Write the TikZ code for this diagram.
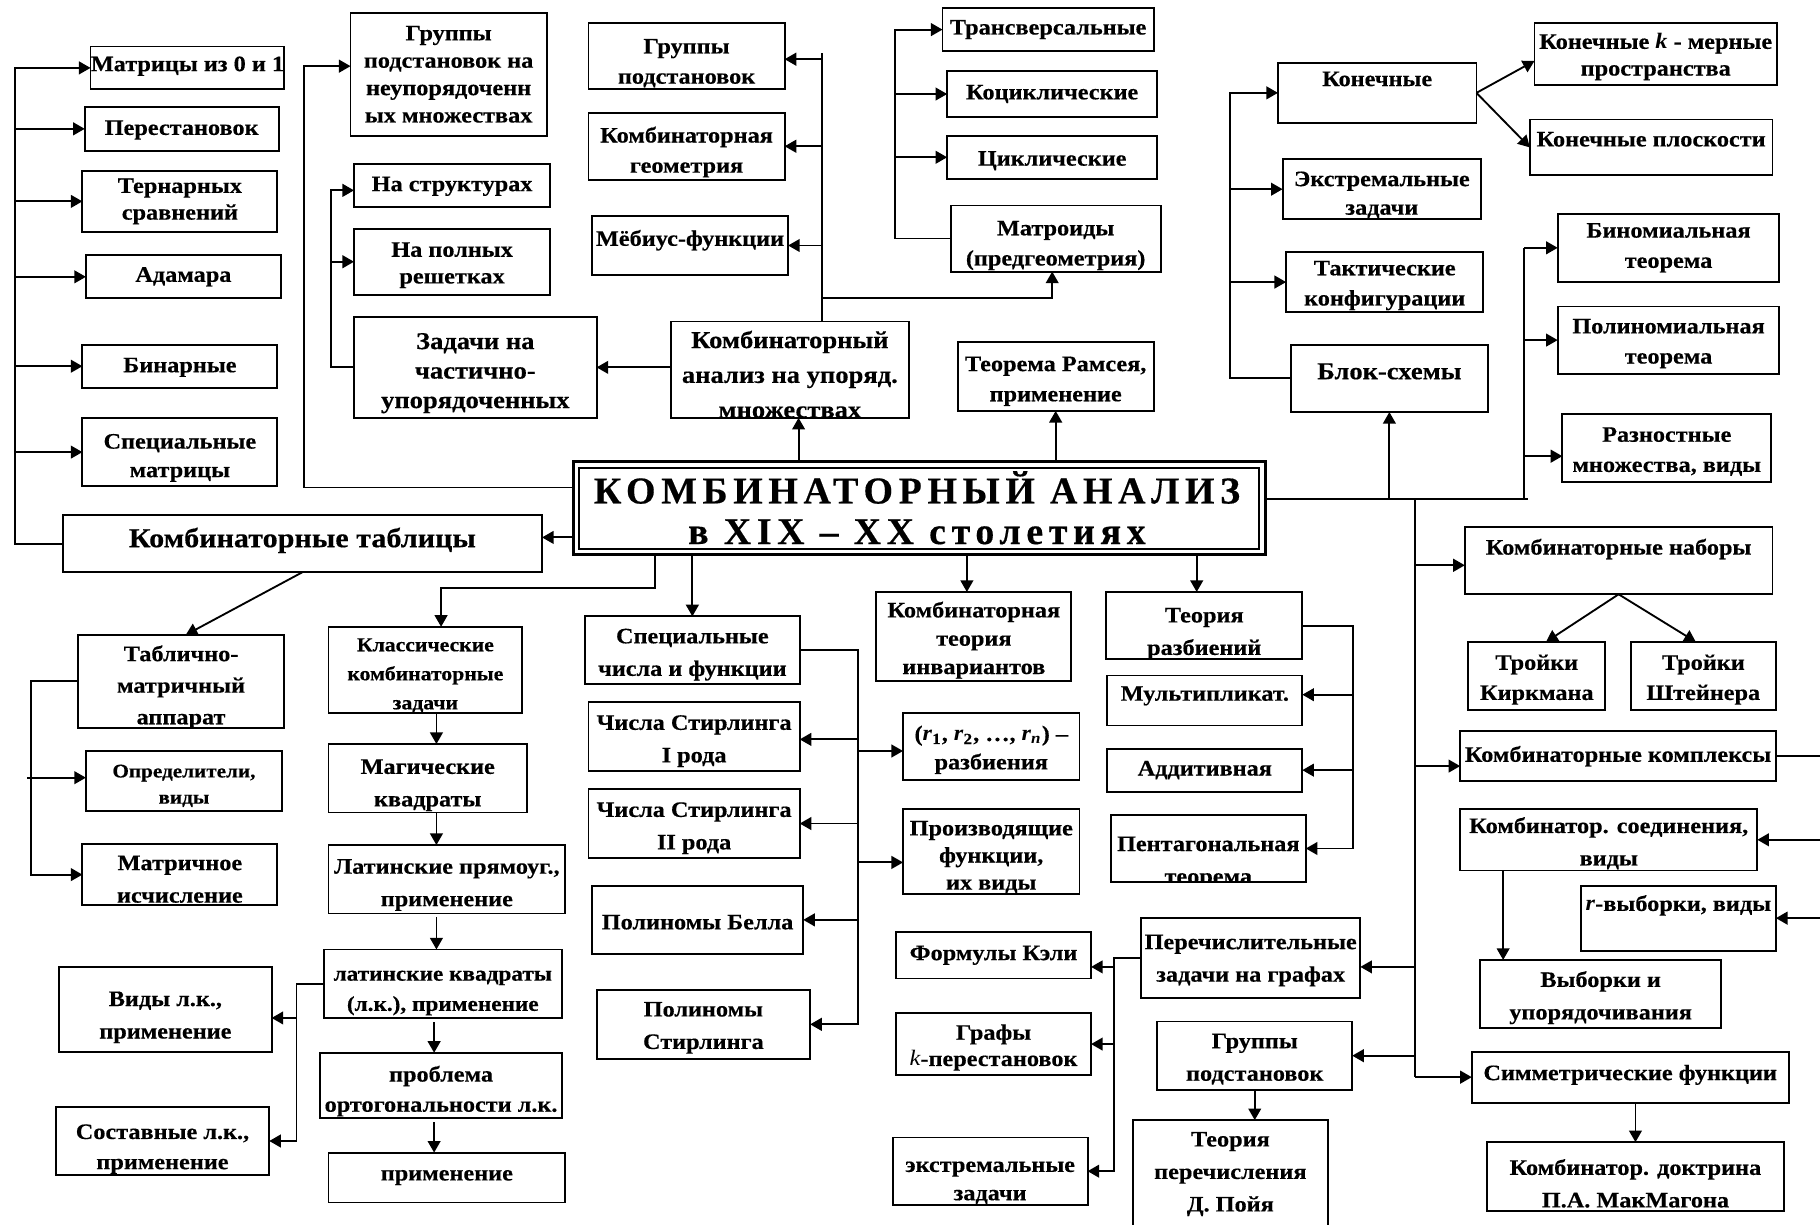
\documentclass[tikz,border=0pt]{standalone}
\usepackage{fontspec}
\setmainfont{Liberation Serif}[FakeStretch=1.1, BoldFeatures={FakeBold=0.4}]
\newfontfamily\titlefam[LetterSpace=15, BoldFeatures={FakeBold=0.4}]{Liberation Serif}
\usetikzlibrary{arrows.meta,calc}
\tikzset{
  box/.style={draw, line width=0.8pt, rectangle, inner sep=0pt, outer sep=0pt},
  txt/.style={align=center, inner sep=0pt, font=\bfseries\fontsize{9.5}{12}\selectfont},
  fs/.style 2 args={font=\bfseries\fontsize{#1}{#2}\selectfont},
  bs/.style={font=\bfseries\fontsize{9.5}{#1}\selectfont},
  arr/.style={line width=0.8pt, -{Triangle[length=5pt,width=5.5pt]}},
  ln/.style={line width=0.8pt},
}
\newcommand\bx[7][]{%
  \node[box, minimum width={(#5-#3)*0.5pt}, minimum height={(#6-#4)*0.5pt}] (#2) at ({(#3+#5)/2},{(#4+#6)/2}) {};
  \begin{scope}
    \clip (#2.south west) rectangle (#2.north east);
    \node[txt,#1] (#2-t) at (#2.center) {#7};
  \end{scope}}
\begin{document}
\begin{tikzpicture}[x=0.5pt, y=-0.5pt]
\useasboundingbox (0,0) rectangle (1568,1055);
\fill[white] (0,0) rectangle (1568,1055);

% ---------- boxes ----------
\bx[yshift=0.75pt]{m01}{78}{40}{245}{77}{Матрицы из 0 и 1}
\bx[yshift=-0.5pt]{perm}{73}{92}{240}{130}{Перестановок}
\bx[bs=11.5]{tern}{71}{147}{239}{200}{Тернарных\\сравнений}
\bx{adam}{74}{220}{242}{257}{Адамара}
\bx[yshift=-0.5pt]{bin}{71}{297}{239}{334}{Бинарные}
\bx[bs=12.3,yshift=-2.5pt]{specm}{71}{360}{239}{419}{Специальные\\матрицы}
\bx[fs={11.8}{15},yshift=1.5pt]{tables}{54}{444}{467}{493}{Комбинаторные таблицы}
\bx[bs=11.8]{grpU}{302}{11}{471}{117}{Группы\\подстановок на\\неупорядоченн\\ых множествах}
\bx[yshift=-0.5pt]{nastr}{305}{141}{474}{178}{На структурах}
\bx[bs=11.5,yshift=-1.5pt]{napoln}{305}{197}{474}{254}{На полных\\решетках}
\bx[fs={10.4}{12.7},yshift=-2.5pt]{zad}{305}{273}{514}{360}{Задачи на\\частично-\\упорядоченных}
\bx[bs=13,yshift=-3pt]{grpP}{507}{20}{676}{77}{Группы\\подстановок}
\bx[bs=13,yshift=-2.5pt]{kgeom}{507}{97}{676}{155}{Комбинаторная\\геометрия}
\bx[yshift=2.25pt]{mob}{510}{186}{679}{237}{Мёбиус-функции}
\bx[fs={10.4}{15},yshift=-2pt]{kupor}{578}{277}{783}{360}{Комбинаторный\\анализ на упоряд.\\множествах}
\bx{trans}{812}{7}{994}{44}{Трансверсальные}
\bx{kocikl}{816}{61}{997}{101}{Коциклические}
\bx[yshift=-1.5pt]{cikl}{816}{117}{997}{154}{Циклические}
\bx[bs=13,yshift=-3pt]{matr}{819}{177}{1000}{234}{Матроиды\\(предгеометрия)}
\bx[bs=13,yshift=-2pt]{ramsey}{825}{295}{994}{354}{Теорема Рамсея,\\применение}
\bx[yshift=6pt]{konech}{1101}{54}{1272}{106}{Конечные}
\bx[bs=11.5,yshift=-1.25pt]{konk}{1322}{20}{1531}{73}{Конечные \textit{k} - мерные\\пространства}
\bx[yshift=3.5pt]{konpl}{1318}{103}{1527}{151}{Конечные плоскости}
\bx[bs=12.3,yshift=-2.5pt]{extrem}{1105}{137}{1276}{189}{Экстремальные\\задачи}
\bx[bs=13,yshift=-1.5pt]{takt}{1108}{217}{1278}{269}{Тактические\\конфигурации}
\bx[fs={10.4}{13},yshift=3pt]{blok}{1112}{297}{1282}{355}{Блок-схемы}
\bx[bs=13]{binom}{1342}{184}{1533}{243}{Биномиальная\\теорема}
\bx[bs=13,yshift=-1.5pt]{polin}{1342}{264}{1533}{322}{Полиномиальная\\теорема}
\bx[bs=13,yshift=-1.5pt]{razn}{1346}{357}{1526}{415}{Разностные\\множества, виды}
\bx[yshift=5pt]{kombnab}{1262}{454}{1527}{512}{Комбинаторные наборы}
\bx[bs=13,yshift=-1.5pt]{kirk}{1265}{553}{1383}{612}{Тройки\\Киркмана}
\bx[bs=13,yshift=-1.5pt]{stein}{1405}{553}{1530}{612}{Тройки\\Штейнера}
\bx{kompl}{1258}{630}{1530}{673}{Комбинаторные комплексы}
\bx[bs=14,yshift=-1.5pt]{soed}{1258}{697}{1514}{750}{Комбинатор. соединения,\\виды}
\bx[yshift=5.5pt]{rvyb}{1362}{763}{1530}{819}{\textit{r}-выборки, виды}
\bx[bs=14,yshift=-1.5pt]{vyb}{1275}{827}{1483}{886}{Выборки и\\упорядочивания}
\bx[yshift=1pt]{simm}{1268}{906}{1541}{950}{Симметрические функции}
\bx[bs=14,yshift=-3pt]{macm}{1281}{984}{1537}{1043}{Комбинатор. доктрина\\П.А. МакМагона}
\bx[bs=13.6,yshift=-2.5pt]{tabmat}{67}{547}{245}{627}{Таблично-\\матричный\\аппарат}
\bx[fs={8.3}{11.3},yshift=-2pt]{opred}{74}{647}{243}{699}{Определители,\\виды}
\bx[bs=14,yshift=-2pt]{matris}{71}{727}{239}{780}{Матричное\\исчисление}
\bx[fs={8.5}{12.5},yshift=-2.5pt]{klass}{283}{540}{450}{614}{Классические\\комбинаторные\\задачи}
\bx[bs=14,yshift=-3pt]{magic}{283}{641}{454}{700}{Магические\\квадраты}
\bx[bs=14,yshift=-2.5pt]{latpr}{283}{728}{487}{787}{Латинские прямоуг.,\\применение}
\bx[fs={9.1}{13},yshift=-4pt]{latkv}{279}{818}{484}{877}{латинские квадраты\\(л.к.), применение}
\bx[bs=13,yshift=-2.5pt]{probl}{276}{907}{484}{963}{проблема\\ортогональности л.к.}
\bx{prim}{283}{993}{487}{1036}{применение}
\bx[bs=14,yshift=-3.5pt]{vidy}{51}{833}{234}{906}{Виды л.к.,\\применение}
\bx[bs=13,yshift=-3.5pt]{sostav}{48}{954}{232}{1012}{Составные л.к.,\\применение}
\bx[bs=14,yshift=-2pt]{specch}{504}{531}{689}{589}{Специальные\\числа и функции}
\bx[bs=14,yshift=-2pt]{st1}{507}{605}{689}{664}{Числа Стирлинга\\I рода}
\bx[bs=14,yshift=-2pt]{st2}{507}{680}{689}{739}{Числа Стирлинга\\II рода}
\bx[yshift=-1pt]{bell}{510}{763}{692}{822}{Полиномы Белла}
\bx[bs=14,yshift=-1.5pt]{polst}{514}{853}{698}{912}{Полиномы\\Стирлинга}
\bx[bs=12.2,yshift=-1.5pt]{invar}{755}{510}{923}{587}{Комбинаторная\\теория\\инвариантов}
\bx[bs=12.2,yshift=-1.5pt]{rpart}{778}{614}{930}{672}{(\textit{r}\textsubscript{1}, \textit{r}\textsubscript{2}, …, \textit{r\textsubscript{n}}) –\\разбиения}
\bx[bs=11.7,yshift=-2.5pt]{proizv}{778}{697}{930}{770}{Производящие\\функции,\\их виды}
\bx{kely}{772}{803}{940}{843}{Формулы Кэли}
\bx[bs=11.3,yshift=-1.5pt]{grafy}{772}{873}{940}{926}{Графы\\{\mdseries\itshape k}-перестановок}
\bx[bs=12.2,yshift=-5pt]{extrz}{769}{980}{937}{1038}{экстремальные\\задачи}
\bx[bs=14,yshift=-3.5pt]{teorr}{953}{510}{1122}{568}{Теория\\разбиений}
\bx[yshift=2pt]{mult}{954}{582}{1122}{625}{Мультипликат.}
\bx{addit}{954}{645}{1122}{682}{Аддитивная}
\bx[bs=14,yshift=-6pt]{pent}{957}{702}{1125}{760}{Пентагональная\\теорема}
\bx[bs=14,yshift=-1pt]{perech}{983}{791}{1172}{860}{Перечислительные\\задачи на графах}
\bx[bs=14,yshift=-1.5pt]{grpod2}{997}{880}{1165}{939}{Группы\\подстановок}
\bx[bs=14]{poya}{976}{965}{1144}{1058}{Теория\\перечисления\\Д. Пойя}

% ---------- title ----------
\node[draw, line width=1.3pt, inner sep=0pt, outer sep=0pt, minimum width={596*0.5pt}, minimum height={80*0.5pt}] (title) at (792,438) {};
\draw[line width=0.8pt] ($(title.north west)+(5,5)$) rectangle ($(title.south east)+(-5,-5)$);
\node[align=center, inner sep=0pt, font=\titlefam\bfseries\fontsize{16.3}{17.5}\selectfont] (title-t) at (790,437.5) {КОМБИНАТОРНЫЙ АНАЛИЗ\\в XIX – XX столетиях};

% ---------- bus coordinates ----------
\coordinate (xL) at (13,0);
\coordinate (xT) at (262,0);
\coordinate (xZ) at (285.5,0);
\coordinate (xK) at (708,0);
\coordinate (xTr) at (771,0);
\coordinate (xV) at (1060,0);
\coordinate (xR1) at (1313,0);
\coordinate (xR2) at (1219,0);
\coordinate (xS) at (739,0);
\coordinate (xP) at (1166,0);
\coordinate (xG) at (960,0);
\coordinate (xTM) at (26.5,0);
\coordinate (xLK) at (255.5,0);
\coordinate (xC) at (376,0);
\coordinate (xC2) at (374,0);
\coordinate (xTB) at (564,0);
\coordinate (yA) at (0,420);
\coordinate (yB) at (0,463);
\coordinate (yR) at (0,430);

% ---------- left ----------
\draw[arr] (tables.west) -| (xL |- m01.west) -- (m01.west);
\foreach \n in {perm,tern,adam,bin,specm} \draw[arr] (xL |- \n.west) -- (\n.west);
\coordinate (gU) at ($(grpU.west)+(0,-7)$);
\draw[arr] (title.west |- yA) -| (xT |- gU) -- (gU);
\draw[arr] (title.west |- yB) -- (tables.east |- yB);

\draw[arr] (kupor.west |- zad.east) -- (zad.east);
\coordinate (ns) at ($(nastr.west)+(0,4.5)$);
\draw[arr] (zad.west) -| (xZ |- ns) -- (ns);
\draw[arr] (xZ |- napoln.west) -- (napoln.west);

% ---------- top middle ----------
\coordinate (ku) at ($(kupor.south)+(7.5,0)$);
\draw[arr] (ku |- title.north) -- (ku);
\draw[arr] (ramsey.south |- title.north) -- (ramsey.south);
\coordinate (k0) at (xK |- kupor.north);
\coordinate (kt) at (xK |- grpP.north);
\draw[ln] (k0) -- ($(kt)+(0,26)$);
\coordinate (gp) at ($(grpP.east)+(0,2.5)$);
\draw[arr] (xK |- gp) -- (gp);
\draw[arr] (xK |- kgeom.east) -- (kgeom.east);
\draw[arr] (xK |- mob.east) -- (mob.east);
\coordinate (mt) at ($(matr.south)+(-3,0)$);
\draw[arr] ($(k0)+(0,-20)$) -| (mt);
\draw[arr] (matr.west) -| (xTr |- trans.west) -- (trans.west);
\draw[arr] (xTr |- kocikl.west) -- (kocikl.west);
\draw[arr] (xTr |- cikl.west) -- (cikl.west);

% ---------- right ----------
\coordinate (r1) at (xR1 |- yR);
\draw[ln] (title.east |- yR) -- ($(r1)+(3,0)$);
\draw[ln] (r1) -- (xR1 |- binom.west);
\draw[arr] (xR1 |- binom.west) -- (binom.west);
\draw[arr] (xR1 |- polin.west) -- (polin.west);
\coordinate (rz) at ($(razn.west)+(0,7)$);
\draw[arr] (xR1 |- rz) -- (rz);
\draw[arr] (blok.south |- yR) -- (blok.south);
\coordinate (r2) at (xR2 |- yR);
\draw[ln] (r2) -- (xR2 |- simm.west);
\coordinate (kn) at ($(kombnab.west)+(0,4)$);
\draw[arr] (xR2 |- kn) -- (kn);
\coordinate (kk) at ($(kompl.west)+(0,8.5)$);
\draw[arr] (xR2 |- kk) -- (kk);
\draw[arr] (xR2 |- simm.west) -- (simm.west);
\coordinate (pe) at ($(perech.east)+(0,7.5)$);
\draw[arr] (xR2 |- pe) -- (pe);
\draw[arr] (xR2 |- grpod2.east) -- (grpod2.east);

\draw[arr] (blok.west) -| (xV |- konech.west) -- (konech.west);
\draw[arr] (xV |- extrem.west) -- (extrem.west);
\draw[arr] (xV |- takt.west) -- (takt.west);
\coordinate (kk1) at ($(konk.west)+(0,6)$);
\draw[arr] (konech.east) -- (kk1);
\draw[arr] (konech.east) -- (konpl.west);

\coordinate (ki) at ($(kirk.north)+(8,0)$);
\coordinate (st) at ($(stein.north)+(-6.5,0)$);
\draw[arr] (kombnab.south) -- (ki);
\draw[arr] (kombnab.south) -- (st);

\draw[ln] (kompl.east) -- ++(60,0);
\draw[arr] ($(soed.east)+(60,0)$) -- (soed.east);
\draw[arr] ($(rvyb.east)+(45,0)$) -- (rvyb.east);
\coordinate (sv) at ($(soed.south)+(-91,0)$);
\draw[arr] (sv) -- (sv |- vyb.north);
\coordinate (sm) at ($(simm.south)+(4.5,0)$);
\draw[arr] (sm) -- (sm |- macm.north);

% ---------- below title ----------
\coordinate (kc) at ($(klass.north)+(13.5,0)$);
\draw[arr] (xTB |- title.south) -- ++(0,28.5) -| (kc);
\draw[arr] (specch.north |- title.south) -- (specch.north);
\coordinate (iv) at ($(invar.north)+(-6,0)$);
\draw[arr] (iv |- title.south) -- (iv);
\coordinate (tr) at ($(teorr.north)+(-6.5,0)$);
\draw[arr] (tr |- title.south) -- (tr);

% ---------- bottom left ----------
\coordinate (tm) at ($(tabmat.north)+(4,0)$);
\draw[arr] (tables.south) -- (tm);
\draw[arr] (tabmat.west) -| (xTM |- matris.west) -- (matris.west);
\coordinate (op) at ($(opred.west)+(0,-3)$);
\coordinate (op0) at (xTM |- op);
\draw[arr] ($(op0)+(-3,0)$) -- (op);

\draw[arr] (xC |- klass.south) -- (xC |- magic.north);
\draw[arr] (xC |- magic.south) -- (xC |- latpr.north);
\coordinate (c1) at (xC |- latpr.south);
\draw[arr] ($(c1)+(0,3)$) -- (xC |- latkv.north);
\coordinate (c2) at (xC2 |- latkv.south);
\draw[arr] ($(c2)+(0,3.5)$) -- (xC2 |- probl.north);
\coordinate (c3) at (xC2 |- probl.south);
\draw[arr] ($(c3)+(0,4)$) -- (xC2 |- prim.north);

\draw[arr] (latkv.west) -| (xLK |- sostav.east) -- (sostav.east);
\coordinate (vd) at ($(vidy.east)+(0,7.5)$);
\draw[arr] (xLK |- vd) -- (vd);

% ---------- middle ----------
\draw[arr] (specch.east) -| (xS |- polst.east) -- (polst.east);
\draw[arr] (xS |- bell.east) -- (bell.east);
\coordinate (s1) at ($(st1.east)+(0,2.5)$);
\draw[arr] (xS |- s1) -- (s1);
\draw[arr] (xS |- st2.east) -- (st2.east);
\coordinate (rp) at ($(rpart.west)+(0,4)$);
\draw[arr] (xS |- rp) -- (rp);
\coordinate (pz) at ($(proizv.west)+(0,9.5)$);
\draw[arr] (xS |- pz) -- (pz);

\draw[arr] (teorr.east) -| (xP |- pent.east) -- (pent.east);
\coordinate (mu) at ($(mult.east)+(0,-5)$);
\draw[arr] (xP |- mu) -- (mu);
\draw[arr] (xP |- addit.east) -- (addit.east);

\draw[arr] (perech.west) -| (xG |- extrz.east) -- (extrz.east);
\coordinate (ke) at ($(kely.east)+(0,10)$);
\draw[arr] (xG |- ke) -- (ke);
\draw[arr] (xG |- grafy.east) -- (grafy.east);

\draw[arr] (grpod2.south) -- (grpod2.south |- poya.north);
\end{tikzpicture}
\end{document}
